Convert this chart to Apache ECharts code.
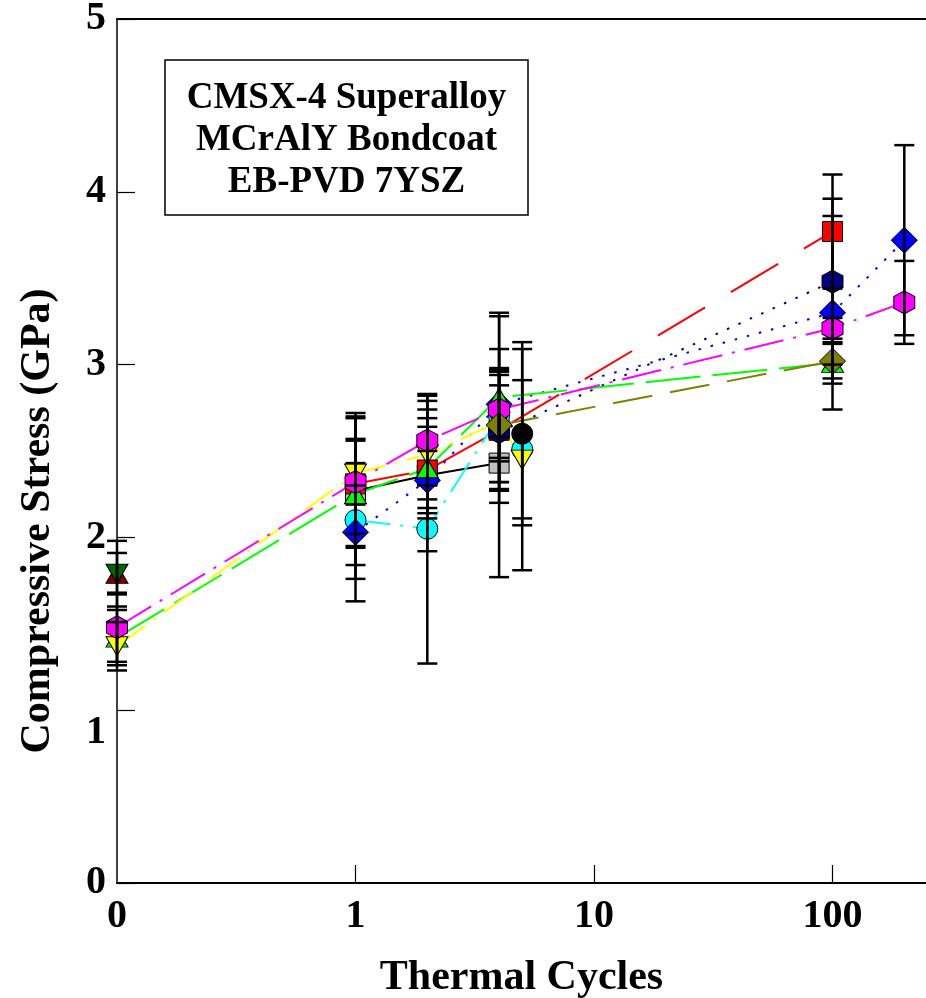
<!DOCTYPE html>
<html><head><meta charset="utf-8">
<script src="https://cdn.jsdelivr.net/npm/echarts@6/dist/echarts.min.js"></script>
<style>html,body{margin:0;padding:0;background:#fff}#c{width:926px;height:998px}</style>
</head><body><div id="c"></div>
<script>
// ---------- data (thermal cycles, stress in GPa, symmetric error half-width) ----------
const xTickCycles = [0, 1, 10, 100];
const yTickValues = [0, 1, 2, 3, 4, 5];

const redX = [1, 2, 4, 100];
const redY = [2.31, 2.39, 2.62, 3.77];
const redErr = [0.12, 0.25, 0.35, 0.33];

const navyX = [4, 100];
const navyY = [2.61, 3.48];
const navyErr = [0.33, 0.48];

const blueX = [1, 2, 4, 100, 200];
const blueY = [2.03, 2.33, 2.77, 3.30, 3.72];
const blueErr = [0.27, 0.41, 0.19, 0.56, 0.55];

const magentaX = [0, 1, 2, 4, 100, 200];
const magentaY = [1.48, 2.32, 2.56, 2.74, 3.21, 3.36];
const magentaErr = [0.20, 0.37, 0.26, 0.54, 0.06, 0.24];

const greenX = [0, 1, 2, 4, 100];
const greenY = [1.42, 2.25, 2.40, 2.81, 3.01];
const greenErr = [0.16, 0.31, 0.29, 0.49, 0.12];

const yellowX = [0, 1, 2, 4, 5];
const yellowY = [1.37, 2.37, 2.48, 2.67, 2.45];
const yellowErr = [0.14, 0.35, 0.31, 0.21, 0.64];

const oliveX = [4, 100];
const oliveY = [2.65, 3.02];
const oliveErr = [0.33, 0.10];

const cyanX = [1, 2, 4, 5];
const cyanY = [2.10, 2.05, 2.70, 2.51];
const cyanErr = [0.47, 0.78, 0.26, 0.40];

const grayX = [1, 2, 4];
const grayY = [2.27, 2.36, 2.43];
const grayErr = [0.43, 0.14, 0.66];

const blackX = [5];
const blackY = [2.60];
const blackErr = [0.53];

const darkRedX = [0];
const darkRedY = [1.79];
const darkRedErr = [0.12];

const darkGreenX = [0];
const darkGreenY = [1.79];
const darkGreenErr = [0.19];

// ---------- helpers ----------
// zero cycles is drawn one decade left of 1 cycle (axis position -1)
const toAxis = c => c === 0 ? -1 : Math.log10(c);
const fmtTick = v => { const r = Math.round(v); if (Math.abs(v - r) > 1e-6) return ''; return r === -1 ? '0' : String(Math.round(Math.pow(10, r))); };

const HEX = 'path://M0,-1 L0.866,-0.5 L0.866,0.5 L0,1 L-0.866,0.5 L-0.866,-0.5 Z';
const TRI_UP = 'path://M0,1 L1,-1 L2,1 Z';
const TRI_DOWN = 'path://M0,-1 L2,-1 L1,1 Z';
const SERIF = '"Liberation Serif","Times New Roman",serif';

const seriesDefs = [
  {xs: darkRedX, ys: darkRedY, err: darkRedErr, color: '#800000', symbol: TRI_UP, size: [22, 19], dash: null, lineColor: null},
  {xs: darkGreenX, ys: darkGreenY, err: darkGreenErr, color: '#006400', symbol: TRI_DOWN, size: [22, 19], dash: null, lineColor: null},
  {xs: grayX, ys: grayY, err: grayErr, color: '#c0c0c0', symbol: 'rect', size: [20, 20], dash: 'solid', lineColor: '#000000'},
  {xs: redX, ys: redY, err: redErr, color: '#ff0000', symbol: 'rect', size: [20, 20], dash: [55, 30], lineColor: '#ff0000'},
  {xs: cyanX, ys: cyanY, err: cyanErr, color: '#00ffff', symbol: 'circle', size: 21, dash: [35, 10, 3, 10], lineColor: '#00ffff'},
  {xs: navyX, ys: navyY, err: navyErr, color: '#000080', symbol: HEX, size: [21, 23], dash: [2.5, 10], lineColor: '#000080'},
  {xs: blueX, ys: blueY, err: blueErr, color: '#0000ff', symbol: 'diamond', size: [26, 26], dash: [2.5, 10], lineColor: '#0000ff'},
  {xs: greenX, ys: greenY, err: greenErr, color: '#00ff00', symbol: TRI_UP, size: [22, 19], dash: [55, 12], lineColor: '#00ff00'},
  {xs: yellowX, ys: yellowY, err: yellowErr, color: '#ffff00', symbol: TRI_DOWN, size: [22, 19], dash: [35, 10, 3, 10], lineColor: '#ffff00'},
  {xs: magentaX, ys: magentaY, err: magentaErr, color: '#ff00ff', symbol: HEX, size: [21, 23], dash: [40, 10, 3, 10], lineColor: '#ff00ff'},
  {xs: oliveX, ys: oliveY, err: oliveErr, color: '#808000', symbol: 'diamond', size: [26, 26], dash: [40, 18], lineColor: '#808000'},
  {xs: blackX, ys: blackY, err: blackErr, color: '#000000', symbol: 'circle', size: 21, dash: null, lineColor: null}
];

const errData = [];
seriesDefs.forEach(d => d.xs.forEach((x, i) => errData.push([toAxis(x), d.ys[i] - d.err[i], d.ys[i] + d.err[i]])));

const series = seriesDefs.map(d => ({
  type: 'line',
  data: d.xs.map((x, i) => [toAxis(x), d.ys[i]]),
  symbol: d.symbol,
  symbolSize: d.size,
  showSymbol: true,
  animation: false,
  itemStyle: {color: d.color, borderColor: '#000', borderWidth: 1},
  lineStyle: d.lineColor ? {color: d.lineColor, width: 2, type: d.dash} : {width: 0, opacity: 0},
  z: 2
}));

series.push({
  type: 'custom',
  data: errData,
  animation: false,
  z: 3,
  renderItem: (params, api) => {
    const x = api.value(0), lo = api.value(1), hi = api.value(2);
    const t = api.coord([x, hi]), b = api.coord([x, lo]);
    const w = 10;
    const st = {stroke: '#000', lineWidth: 2.5};
    return {type: 'group', children: [
      {type: 'line', shape: {x1: t[0], y1: t[1], x2: b[0], y2: b[1]}, style: st},
      {type: 'line', shape: {x1: t[0] - w, y1: t[1], x2: t[0] + w, y2: t[1]}, style: st},
      {type: 'line', shape: {x1: b[0] - w, y1: b[1], x2: b[0] + w, y2: b[1]}, style: st}
    ]};
  }
});

const xMin = -1, xMax = 2.392;
const chart = echarts.init(document.getElementById('c'), null, {renderer: 'canvas'});
chart.setOption({
  animation: false,
  backgroundColor: '#fff',
  grid: {left: 117, right: 0, top: 19, bottom: 115, containLabel: false, outerBoundsMode: 'none'},
  xAxis: [{
    type: 'value', min: xMin, max: xMax, position: 'bottom',
    axisLine: {show: true, onZero: false, lineStyle: {color: '#000', width: 2}},
    axisTick: {show: true, inside: true, length: 18, customValues: xTickCycles.filter(c => c > 0).map(toAxis), lineStyle: {color: '#000', width: 1.2}},
    axisLabel: {show: true, customValues: xTickCycles.map(toAxis), formatter: fmtTick, color: '#000', fontFamily: SERIF, fontWeight: 'bold', fontSize: 40, margin: 14},
    splitLine: {show: false},
    name: 'Thermal Cycles', nameLocation: 'middle', nameGap: 74,
    nameTextStyle: {color: '#000', fontFamily: SERIF, fontWeight: 'bold', fontSize: 42}
  }, {
    type: 'value', min: xMin, max: xMax, position: 'top',
    axisLine: {show: true, onZero: false, lineStyle: {color: '#000', width: 2}},
    axisTick: {show: false}, axisLabel: {show: false}, splitLine: {show: false}
  }],
  yAxis: {
    type: 'value', min: 0, max: 5, interval: 1,
    axisLine: {show: true, onZero: false, lineStyle: {color: '#000', width: 1.5}},
    axisTick: {show: true, inside: true, length: 18, lineStyle: {color: '#000', width: 1.2}},
    axisLabel: {color: '#000', fontFamily: SERIF, fontWeight: 'bold', fontSize: 40, margin: 11,
      formatter: v => !yTickValues.includes(v) ? '' : (v === 1 ? '{low|1}' : String(v)),
      rich: {low: {fontFamily: SERIF, fontWeight: 'bold', fontSize: 40, color: '#000', padding: [44, 0, 0, 0]}}},
    splitLine: {show: false},
    name: 'Compressive Stress (GPa)', nameLocation: 'middle', nameGap: 58,
    nameTextStyle: {color: '#000', fontFamily: SERIF, fontWeight: 'bold', fontSize: 42, padding: [0, 140, 0, 0]}
  },
  graphic: [
    {type: 'rect', shape: {x: 165, y: 60, width: 363, height: 155}, style: {fill: '#fff', stroke: '#000', lineWidth: 1.5}, z: 100},
    {type: 'text', x: 346.5, y: 98, style: {text: 'CMSX-4 Superalloy', font: 'bold 37px ' + SERIF, textAlign: 'center', textVerticalAlign: 'middle', fill: '#000'}, z: 101},
    {type: 'text', x: 346.5, y: 140, style: {text: 'MCrAlY Bondcoat', font: 'bold 37px ' + SERIF, textAlign: 'center', textVerticalAlign: 'middle', fill: '#000'}, z: 101},
    {type: 'text', x: 346.5, y: 182, style: {text: 'EB-PVD 7YSZ', font: 'bold 37px ' + SERIF, textAlign: 'center', textVerticalAlign: 'middle', fill: '#000'}, z: 101}
  ],
  series: series
});
</script>
</body></html>
